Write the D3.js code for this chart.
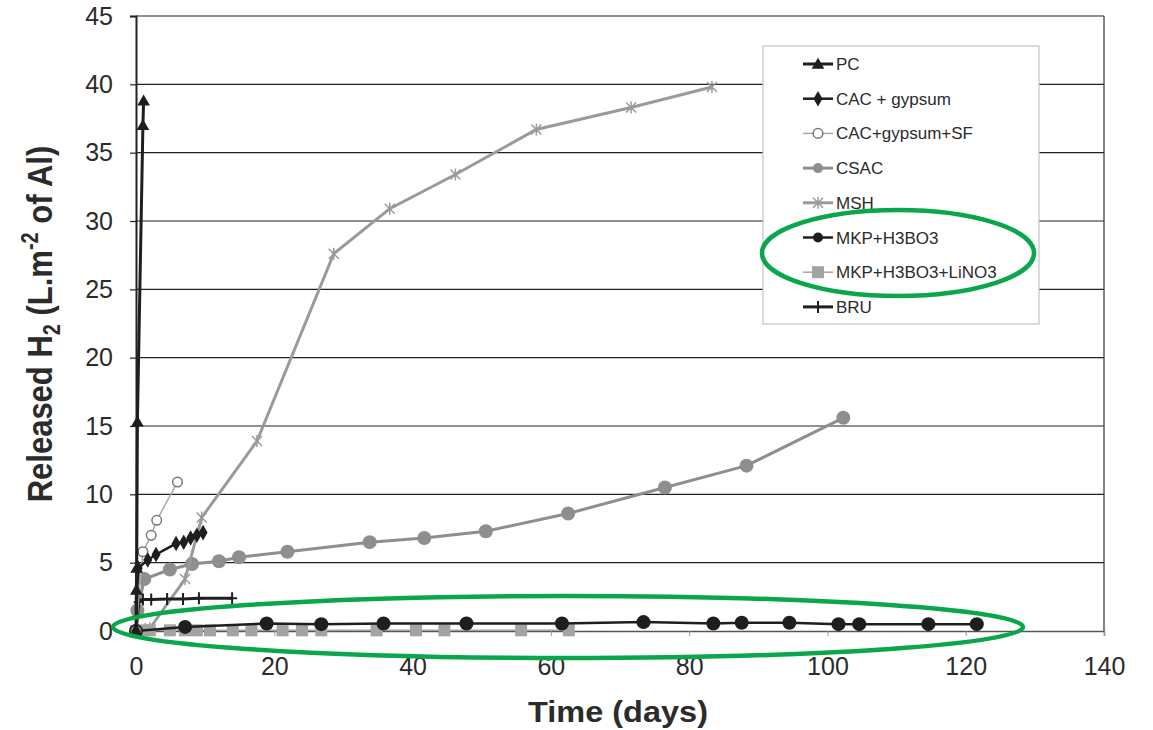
<!DOCTYPE html>
<html><head><meta charset="utf-8">
<script src="https://cdn.jsdelivr.net/npm/d3@7"></script>
<style>body{margin:0;background:#fff}svg{display:block}text{font-family:"Liberation Sans",Arial,sans-serif}</style>
</head><body><svg id="c" width="1153" height="730"></svg>
<script>
const xTicks=[0,20,40,60,80,100,120,140];
const yTicks=[0,5,10,15,20,25,30,35,40,45];
const seriesNames=["PC","CAC + gypsum","CAC+gypsum+SF","CSAC","MSH","MKP+H3BO3","MKP+H3BO3+LiNO3","BRU"];
const pcDays=[0,0.05,0.1,0.2,1.0,1.1];
const pcVals=[0,3.0,4.6,15.3,37.0,38.8];
const cacDays=[0,0.3,1.7,2.9,5.8,6.9,7.9,8.8,9.7];
const cacVals=[0,4.6,5.2,5.6,6.4,6.5,6.8,7.0,7.2];
const sfDays=[0,1.0,2.2,3.0,6.0];
const sfVals=[0,5.8,7.0,8.1,10.9];
const csacDays=[0,0.2,1.2,4.9,8.1,12.0,14.9,21.9,33.8,41.7,50.6,62.5,76.5,88.3,102.3];
const csacVals=[0,1.5,3.8,4.5,4.9,5.1,5.4,5.8,6.5,6.8,7.3,8.6,10.5,12.1,15.6];
const mshDays=[0,2,7.1,9.5,17.5,28.6,36.7,46.2,57.9,71.6,83.3];
const mshVals=[0,0.2,3.8,8.3,13.9,27.6,30.9,33.4,36.7,38.3,39.8];
const mkpDays=[0,7.1,18.9,26.8,35.8,47.8,61.6,73.4,83.5,87.6,94.5,101.6,104.6,114.6,121.6];
const mkpVals=[0,0.3,0.55,0.5,0.55,0.55,0.55,0.65,0.55,0.6,0.6,0.5,0.5,0.5,0.5];
const liDays=[0,1,2,4.9,7.1,8.8,10.7,14,16.7,21.2,24,26.8,34.8,40.5,44.6,55.7,62.6];
const liVals=[0,0.05,0.05,0.05,0.05,0.05,0.05,0.05,0.05,0.05,0.05,0.05,0.05,0.05,0.05,0.05,0.05];
const bruDays=[0,0.4,1,2.2,4.5,6.8,9.1,13.9];
const bruVals=[0,2.1,2.3,2.3,2.35,2.35,2.4,2.4];

const svg=d3.select("#c");
const x=d3.scaleLinear().domain([0,140]).range([136,1104]);
const y=d3.scaleLinear().domain([0,45]).range([631,16]);
const TXT="#2b2b2b";

// gridlines
svg.append("g").selectAll("line").data(yTicks.filter(v=>v>0)).join("line")
 .attr("x1",x(0)).attr("x2",x(140)).attr("y1",d=>y(d)).attr("y2",d=>y(d))
 .attr("stroke","#222").attr("stroke-width",1.2);
// right border
svg.append("line").attr("x1",x(140)).attr("x2",x(140)).attr("y1",y(45)).attr("y2",y(0)).attr("stroke","#333").attr("stroke-width",1.2);

// x axis
const gx=svg.append("g").attr("transform",`translate(0,${y(0)})`)
 .call(d3.axisBottom(x).tickValues(xTicks).tickSize(5).tickPadding(21).tickFormat(d3.format("d")));
gx.select(".domain").attr("stroke","#555").attr("stroke-width",1.5);
gx.selectAll(".tick line").attr("stroke","#999");
gx.selectAll("text").attr("font-size",25).attr("fill",TXT).attr("font-family","Liberation Sans, Arial");

// y axis
const gy=svg.append("g").attr("transform",`translate(${x(0)},0)`)
 .call(d3.axisLeft(y).tickValues(yTicks).tickSize(6).tickPadding(17).tickFormat(d3.format("d")));
gy.select(".domain").attr("stroke","#222").attr("stroke-width",2);
gy.selectAll(".tick line").attr("stroke","#222").attr("stroke-width",1.2);
gy.selectAll("text").attr("font-size",25).attr("fill",TXT).attr("font-family","Liberation Sans, Arial");

// titles
svg.append("text").attr("x",618).attr("y",722).attr("text-anchor","middle")
 .attr("font-size",29).attr("font-weight","bold").attr("fill",TXT)
 .attr("textLength",180).attr("lengthAdjust","spacingAndGlyphs").text("Time (days)");
const yt=svg.append("text").attr("transform","translate(52,324) rotate(-90) scale(1,1.15)")
 .attr("text-anchor","middle").attr("font-size",31).attr("font-weight","bold").attr("fill",TXT);
yt.append("tspan").text("Released H");
yt.append("tspan").attr("font-size",20).attr("dy",7).text("2");
yt.append("tspan").attr("dy",-7).text(" (L.m");
yt.append("tspan").attr("font-size",20).attr("dy",-12).text("-2");
yt.append("tspan").attr("dy",12).text(" of Al)");

// marker symbols
function marker(g,type,cx,cy,st){
  if(type==="tri") g.append("path").attr("d",d3.symbol(d3.symbolTriangle,70)()).attr("transform",`translate(${cx},${cy+1})`).attr("fill",st.c);
  else if(type==="dia") g.append("path").attr("d",d3.symbol(d3.symbolDiamond,70)()).attr("transform",`translate(${cx},${cy})`).attr("fill",st.c);
  else if(type==="ocirc") g.append("circle").attr("cx",cx).attr("cy",cy).attr("r",4.8).attr("fill","#fff").attr("stroke","#777").attr("stroke-width",1.5);
  else if(type==="circ") g.append("circle").attr("cx",cx).attr("cy",cy).attr("r",st.r).attr("fill",st.c);
  else if(type==="sq") g.append("rect").attr("x",cx-6).attr("y",cy-6).attr("width",12).attr("height",12).attr("fill",st.c);
  else if(type==="star") g.append("path").attr("d",`M${cx-5},${cy-5}L${cx+5},${cy+5}M${cx-5},${cy+5}L${cx+5},${cy-5}M${cx},${cy-6}L${cx},${cy+6}`).attr("stroke",st.c).attr("stroke-width",1.5);
  else if(type==="plus") g.append("path").attr("d",`M${cx},${cy-6}L${cx},${cy+6}M${cx-5},${cy}L${cx+5},${cy}`).attr("stroke",st.c).attr("stroke-width",2);
}

const series=[
 {name:seriesNames[0],d:pcDays,v:pcVals,c:"#1e1e1e",w:3,m:"tri"},
 {name:seriesNames[1],d:cacDays,v:cacVals,c:"#1e1e1e",w:2.5,m:"dia"},
 {name:seriesNames[2],d:sfDays,v:sfVals,c:"#aaaaaa",w:1.5,m:"ocirc"},
 {name:seriesNames[3],d:csacDays,v:csacVals,c:"#8e8e8e",w:3,m:"circ",r:7},
 {name:seriesNames[4],d:mshDays,v:mshVals,c:"#9a9a9a",w:3,m:"star"},
 {name:seriesNames[5],d:mkpDays,v:mkpVals,c:"#1e1e1e",w:2.5,m:"circ",r:7},
 {name:seriesNames[6],d:liDays,v:liVals,c:"#a3a3a3",w:1.5,m:"sq"},
 {name:seriesNames[7],d:bruDays,v:bruVals,c:"#1e1e1e",w:3,m:"plus"}
];
const drawOrder=[3,4,6,5,7,2,1,0];
const line=d3.line().x(p=>x(p[0])).y(p=>y(p[1]));
drawOrder.forEach(i=>{
  const s=series[i];
  const pts=s.d.map((d,j)=>[d,s.v[j]]);
  const g=svg.append("g");
  g.append("path").attr("d",line(pts)).attr("fill","none").attr("stroke",s.c).attr("stroke-width",s.w);
  pts.forEach(p=>marker(g,s.m,x(p[0]),y(p[1]),s));
});

// legend
const lg=svg.append("g");
lg.append("rect").attr("x",763).attr("y",46).attr("width",276).attr("height",278).attr("fill","#fff").attr("stroke","#c4c4c4").attr("stroke-width",1.2);
series.forEach((s,i)=>{
  const yy=64+i*34.7;
  lg.append("line").attr("x1",803).attr("x2",833).attr("y1",yy).attr("y2",yy).attr("stroke",s.c).attr("stroke-width",s.w);
  marker(lg,s.m,818,yy,{c:s.c,r:5});
  lg.append("text").attr("x",836).attr("y",yy+6).attr("font-size",17).attr("fill",TXT).text(s.name);
});

// green highlight ellipses
svg.append("ellipse").attr("cx",898).attr("cy",253).attr("rx",136).attr("ry",43).attr("fill","none").attr("stroke","#0aa64b").attr("stroke-width",4.5);
svg.append("ellipse").attr("cx",568).attr("cy",627).attr("rx",455).attr("ry",31).attr("fill","none").attr("stroke","#0aa64b").attr("stroke-width",4.5);
</script></body></html>
